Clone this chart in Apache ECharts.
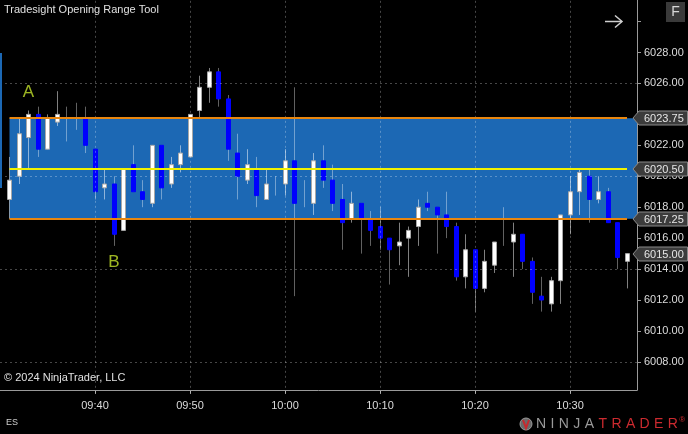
<!DOCTYPE html>
<html><head><meta charset="utf-8">
<script src="https://cdn.jsdelivr.net/npm/echarts@6/dist/echarts.min.js"></script>
<style>html,body{margin:0;padding:0;background:#000;overflow:hidden;width:688px;height:434px;position:relative;}
#c{position:absolute;left:0;top:-20px;width:688px;height:474px;}</style>
</head><body><div id="c"></div>
<script>
// ---- data ----
const times = ['09:31','09:32','09:33','09:34','09:35','09:36','09:37','09:38','09:39','09:40',
  '09:41','09:42','09:43','09:44','09:45','09:46','09:47','09:48','09:49','09:50',
  '09:51','09:52','09:53','09:54','09:55','09:56','09:57','09:58','09:59','10:00',
  '10:01','10:02','10:03','10:04','10:05','10:06','10:07','10:08','10:09','10:10',
  '10:11','10:12','10:13','10:14','10:15','10:16','10:17','10:18','10:19','10:20',
  '10:21','10:22','10:23','10:24','10:25','10:26','10:27','10:28','10:29','10:30',
  '10:31','10:32','10:33','10:34','10:35','10:36'];
const opens = [6018.5,6020.0,6022.5,6024.0,6021.75,6023.5,6023.75,6023.75,6023.75,6021.75,
  6019.25,6019.5,6016.5,6020.75,6019.0,6018.25,6022.0,6019.5,6020.75,6021.25,
  6024.25,6025.75,6026.75,6025.0,6021.5,6019.75,6020.5,6018.5,6019.5,6019.5,
  6021.0,6019.0,6018.25,6021.0,6019.75,6018.5,6017.25,6018.25,6017.25,6016.75,
  6016.0,6015.5,6016.0,6016.75,6018.25,6018.0,6017.5,6016.75,6013.5,6015.25,
  6012.75,6014.25,6016.5,6015.75,6016.25,6014.5,6012.25,6011.75,6013.25,6017.5,
  6019.0,6020.0,6018.5,6019.0,6017.0,6014.5];
const highs = [6021.25,6023.75,6024.25,6024.5,6024.0,6025.5,6024.5,6024.75,6024.5,6021.75,
  6020.5,6020.0,6020.5,6022.0,6019.75,6022.0,6022.0,6021.25,6022.0,6024.0,
  6026.5,6027.0,6027.0,6025.25,6022.75,6021.75,6021.25,6020.5,6020.0,6021.75,
  6025.75,6019.75,6021.5,6022.0,6020.75,6019.5,6019.0,6018.25,6017.75,6018.0,
  6016.0,6017.0,6016.75,6018.5,6019.0,6018.0,6019.0,6017.0,6016.25,6015.25,
  6015.25,6015.75,6018.0,6017.0,6016.25,6014.75,6013.5,6013.5,6017.5,6020.0,
  6020.5,6020.5,6020.0,6019.25,6017.0,6015.0];
const lows = [6017.25,6019.5,6020.5,6021.25,6021.75,6023.25,6022.25,6023.0,6021.5,6018.5,
  6018.5,6015.5,6016.5,6019.0,6018.0,6018.0,6018.5,6019.25,6020.25,6021.25,
  6023.75,6024.75,6024.5,6021.0,6018.5,6019.5,6018.0,6018.5,6018.75,6018.75,
  6012.25,6018.0,6017.5,6019.25,6017.75,6015.25,6017.0,6015.0,6015.5,6015.25,
  6013.0,6014.25,6013.5,6015.5,6017.75,6015.0,6016.0,6013.25,6012.75,6011.25,
  6012.5,6013.75,6015.5,6013.5,6014.0,6011.75,6011.25,6011.25,6011.75,6016.25,
  6017.5,6017.0,6018.25,6017.0,6014.0,6012.75];
const closes = [6019.75,6022.75,6024.0,6021.75,6023.75,6024.0,6023.75,6023.75,6022.0,6019.0,
  6019.5,6016.25,6020.5,6019.0,6018.5,6022.0,6019.25,6020.75,6021.5,6024.0,
  6025.75,6026.75,6025.0,6021.75,6020.0,6020.75,6018.75,6019.5,6019.5,6021.0,
  6018.25,6019.0,6021.0,6019.75,6018.25,6017.0,6018.25,6017.25,6016.5,6016.0,
  6015.25,6015.75,6016.5,6018.0,6018.0,6017.5,6016.75,6013.5,6015.25,6012.75,
  6014.5,6015.75,6016.5,6016.25,6014.5,6012.5,6012.0,6013.25,6017.5,6019.0,
  6020.25,6018.5,6019.0,6017.0,6014.75,6015.0];
const rangeHigh = 6023.75, rangeMid = 6020.50, rangeLow = 6017.25;
const timeTicks = ['09:40','09:50','10:00','10:10','10:20','10:30'];
const gridLevels = [6008, 6014, 6020, 6026];
const pointLabels = [{name:'A', time:'09:33', price:6025.4}, {name:'B', time:'09:42', price:6014.45}];
const priceTags = [rangeHigh, rangeMid, rangeLow, closes[closes.length-1]];

// ---- helpers ----
const toMin = s => { const p = s.split(':').map(Number); return p[0]*60 + p[1]; };
const fmtTime = v => { const h = Math.floor(v/60), m = Math.round(v - h*60); return String(h).padStart(2,'0') + ':' + String(m).padStart(2,'0'); };
const FONT = "'Liberation Sans',Arial,sans-serif";
const OY = 20; // container shifted up by 20px
const X_MIN = 570, X_MAX = 637.05, Y_MIN = 6006, Y_MAX = 6032;
const candleData = times.map((t, i) => [toMin(t), opens[i], closes[i], lows[i], highs[i]]);
const tStart = toMin(times[0]), tEnd = toMin(times[times.length-1]);
const nearTag = v => priceTags.some(p => Math.abs(p - v) < 0.4);

const chart = echarts.init(document.getElementById('c'));
chart.setOption({
  animation: false,
  backgroundColor: '#000',
  grid: { left: 0, right: 51, top: OY - 9.38, bottom: 474 - (OY + 392.84), containLabel: false },
  xAxis: {
    type: 'value', min: X_MIN, max: X_MAX, interval: 10, offset: -2.84,
    axisLine: { show: true, lineStyle: { color: '#9a9a9a', width: 1 } },
    axisTick: { show: true, length: 4, lineStyle: { color: '#9a9a9a' } },
    axisLabel: { color: '#dcdcdc', fontSize: 11, fontFamily: FONT, margin: 10,
      showMinLabel: false, showMaxLabel: false, formatter: v => fmtTime(v) },
    splitLine: { show: false }
  },
  yAxis: {
    type: 'value', position: 'right', min: Y_MIN, max: Y_MAX, interval: 2, scale: true,
    axisLine: { show: false },
    axisTick: { show: true, length: 4, lineStyle: { color: '#9a9a9a' } },
    axisLabel: { color: '#dcdcdc', fontSize: 11, fontFamily: FONT, margin: 7,
      showMinLabel: false, showMaxLabel: false,
      formatter: v => (v < 6007 || v > 6029 || nearTag(v)) ? '' : v.toFixed(2) },
    splitLine: { show: false }
  },
  series: [
    { type: 'line', data: [], z: 1, silent: true,
      markArea: { silent: true, itemStyle: { color: '#1c68b4' },
        data: [[{ xAxis: tStart, yAxis: rangeLow }, { xAxis: X_MAX, yAxis: rangeHigh }]] } },
    { type: 'line', data: [], z: 2, silent: true,
      markLine: { silent: true, symbol: ['none','none'], label: { show: false },
        lineStyle: { color: 'rgba(255,255,255,0.28)', type: [2, 3], width: 1 },
        data: gridLevels.map(v => ({ yAxis: v })).concat(timeTicks.map(t => ({ xAxis: toMin(t) }))) } },
    { type: 'custom', z: 3, data: candleData, clip: false,
      renderItem: (params, api) => {
        const t = api.value(0), o = api.value(1), c = api.value(2), l = api.value(3), h = api.value(4);
        const pO = api.coord([t, o]), pC = api.coord([t, c]), pL = api.coord([t, l]), pH = api.coord([t, h]);
        const left = Math.round(pO[0] - 2.5);
        const cx = left + 2.5;
        const up = c > o;
        const ch = [{ type: 'line', shape: { x1: cx, y1: pH[1], x2: cx, y2: pL[1] },
          style: { stroke: up ? 'rgba(255,255,255,0.5)' : 'rgba(255,255,255,0.38)', lineWidth: 1 } }];
        if (c !== o) {
          const top = Math.min(pO[1], pC[1]), hgt = Math.abs(pO[1] - pC[1]);
          ch.push({ type: 'rect', shape: { x: left + 0.5, y: top, width: 4, height: hgt },
            style: { fill: up ? '#ffffff' : '#0000ff', stroke: up ? '#a8a8a8' : '#0000ff', lineWidth: 1 } });
        }
        return { type: 'group', children: ch };
      } },
    { type: 'line', data: [], z: 4, silent: true,
      markLine: { silent: true, symbol: ['none','none'], label: { show: false },
        data: [
          [{ coord: [tStart, rangeHigh], lineStyle: { color: '#e8860f', width: 2, type: 'solid' } }, { coord: [tEnd, rangeHigh] }],
          [{ coord: [tStart, rangeMid], lineStyle: { color: '#f2f200', width: 2, type: 'solid' } }, { coord: [tEnd, rangeMid] }],
          [{ coord: [tStart, rangeLow], lineStyle: { color: '#e8860f', width: 2, type: 'solid' } }, { coord: [tEnd, rangeLow] }]
        ] } },
    { type: 'scatter', z: 5, symbolSize: 0, silent: true,
      data: pointLabels.map(p => ({ name: p.name, value: [toMin(p.time), p.price] })),
      label: { show: true, position: 'inside', formatter: '{b}', color: '#c5e32c', fontSize: 17,
        fontFamily: FONT } }
  ]
});

// ---- decorations: tags, borders, texts ----
const g = [];
g.push({ type: 'line', shape: { x1: 637.5, y1: OY, x2: 637.5, y2: OY + 390.5 }, style: { stroke: '#9a9a9a', lineWidth: 1 }, z: 50 });
g.push({ type: 'rect', shape: { x: 0, y: OY + 53, width: 2, height: 135 }, style: { fill: '#1c68b4' }, z: 50 });
priceTags.forEach((v, i) => {
  const y = Math.round(chart.convertToPixel({ yAxisIndex: 0 }, v));
  g.push({ type: 'polygon', z: 60 + i,
    shape: { points: [[633, y], [639, y - 7], [687.5, y - 7], [687.5, y + 7], [639, y + 7]] },
    style: { fill: '#3c3c3c', stroke: '#8a8a8a', lineWidth: 1 } });
  g.push({ type: 'text', z: 61 + i, style: { text: v.toFixed(2), x: 644, y: y + 0.5, verticalAlign: 'middle',
    fill: '#e6e6e6', font: '11px ' + FONT } });
});
g.push({ type: 'text', z: 70, style: { text: 'Tradesight Opening Range Tool', x: 4, y: OY + 10, verticalAlign: 'middle', fill: '#e0e0e0', font: '11px ' + FONT } });
g.push({ type: 'text', z: 70, style: { text: '© 2024 NinjaTrader, LLC', x: 4, y: OY + 378, verticalAlign: 'middle', fill: '#e0e0e0', font: '11px ' + FONT } });
g.push({ type: 'text', z: 70, style: { text: 'ES', x: 6, y: OY + 423, verticalAlign: 'middle', fill: '#cfcfcf', font: '9px ' + FONT } });
// arrow
g.push({ type: 'polyline', z: 70, shape: { points: [[605, OY + 21.5], [622, OY + 21.5]] }, style: { stroke: '#cfcfcf', lineWidth: 1.5 } });
g.push({ type: 'polyline', z: 70, shape: { points: [[615, OY + 15.5], [622, OY + 21.5], [615, OY + 27.5]] }, style: { stroke: '#cfcfcf', lineWidth: 1.5, fill: null } });
// F button
g.push({ type: 'rect', z: 70, shape: { x: 666, y: OY + 2, width: 19, height: 20 }, style: { fill: '#3a3a3a' } });
g.push({ type: 'text', z: 71, style: { text: 'F', x: 675.5, y: OY + 12, align: 'center', verticalAlign: 'middle', fill: '#d8d8d8', font: '14px ' + FONT } });
// logo
g.push({ type: 'circle', z: 70, shape: { cx: 526, cy: OY + 424, r: 6 }, style: { fill: '#6a6a6a', stroke: '#9a9a9a', lineWidth: 1 } });
g.push({ type: 'polyline', z: 71, shape: { points: [[523, OY + 420], [526, OY + 428], [529, OY + 420]] }, style: { stroke: '#c8282d', lineWidth: 2, fill: null } });
const logo = 'NINJATRADER';
const adv = { N: 10.1, I: 3.9, J: 7, A: 9.3, T: 8.6, R: 10.1, D: 10.1, E: 9.3 };
let lx = 536;
for (let i = 0; i < logo.length; i++) {
  g.push({ type: 'text', z: 70, style: { text: logo[i], x: lx, y: OY + 424, verticalAlign: 'middle',
    fill: i < 5 ? '#9a9a9a' : '#cc2a2f', font: '14px ' + FONT } });
  lx += adv[logo[i]] + 4.4;
}
g.push({ type: 'text', z: 70, style: { text: '®', x: lx - 3, y: OY + 420, verticalAlign: 'middle', fill: '#cc2a2f', font: '8px ' + FONT } });
chart.setOption({ graphic: { elements: g } });
</script></body></html>
